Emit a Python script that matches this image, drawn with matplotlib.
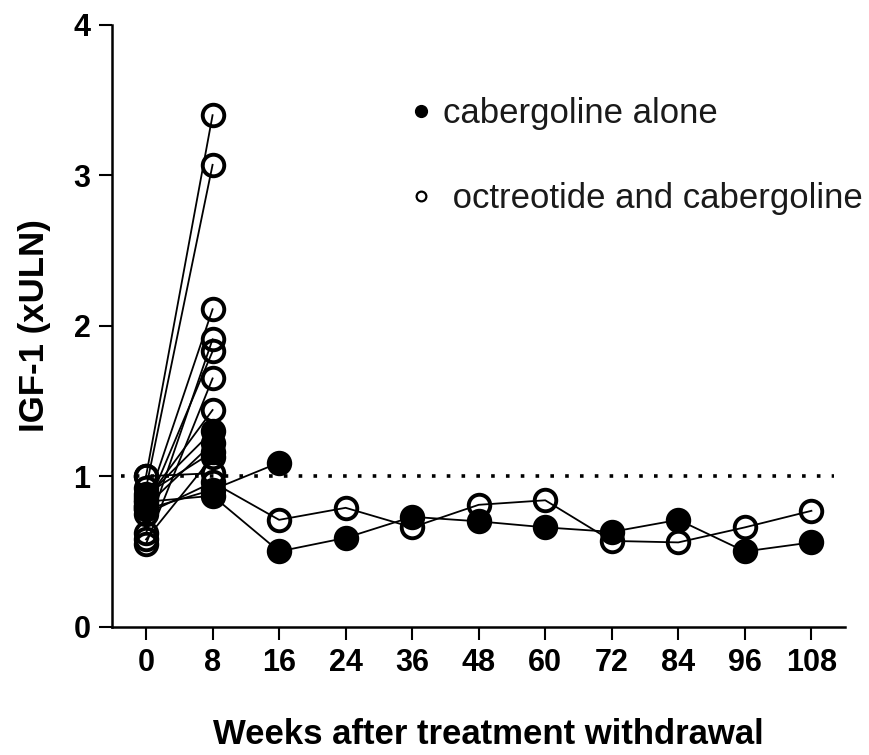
import matplotlib
matplotlib.use("Agg")
import matplotlib.pyplot as plt
from matplotlib.lines import Line2D

plt.rcParams['font.family'] = ['Liberation Sans', 'DejaVu Sans']

# x axis is categorical: weeks after withdrawal
weeks = ['0', '8', '16', '24', '36', '48', '60', '72', '84', '96', '108']

# cabergoline alone (filled circles), one list per patient
cab_long = [0.83, 0.87, 0.50, 0.59, 0.73, 0.70, 0.66, 0.63, 0.71, 0.50, 0.56]
cab_to16 = [0.78, 0.91, 1.09]
cab_p1 = [0.86, 1.30]
cab_p2 = [0.80, 1.22]
cab_p3 = [0.88, 1.16]

# octreotide and cabergoline (open circles)
oct_long = [0.75, 0.96, 0.71, 0.79, 0.66, 0.81, 0.84, 0.57, 0.56, 0.66, 0.77]
oct_p1 = [1.00, 3.40]
oct_p2 = [0.92, 3.07]
oct_p3 = [0.80, 2.11]
oct_p4 = [0.62, 1.91]
oct_p5 = [0.78, 1.83]
oct_p6 = [0.55, 1.65]
oct_p7 = [0.84, 1.44]
oct_p8 = [0.58, 1.13]
oct_p9 = [1.00, 1.02]

cab_patients = [cab_p1, cab_p2, cab_p3, cab_to16, cab_long]
oct_patients = [oct_p1, oct_p2, oct_p3, oct_p4, oct_p5, oct_p6, oct_p7, oct_p8, oct_p9, oct_long]

fig = plt.figure(figsize=(8.69, 7.55), dpi=100)
ax = fig.add_axes([0.129, 0.170, 0.843, 0.797])

# open markers first, filled on top
for p in oct_patients:
    ax.plot(range(len(p)), p, color='black', lw=1.3, marker='o', ms=15.5,
            mfc='none', mec='black', mew=2.8, clip_on=False, zorder=3)
for p in cab_patients:
    ax.plot(range(len(p)), p, color='black', lw=1.3, marker='o', ms=15.5,
            mfc='black', mec='black', mew=2.8, clip_on=False, zorder=4)

# upper limit of normal
ax.axhline(1, xmin=0.012, xmax=0.985, color='black', lw=2.6,
           linestyle=(0, (1, 3.1)), zorder=2)

ax.set_xlim(-0.51, 10.5)
ax.set_ylim(0, 4)
ax.set_xticks(range(len(weeks)))
ax.set_xticklabels(weeks)
ax.set_yticks([0, 1, 2, 3, 4])

ax.spines['top'].set_visible(False)
ax.spines['right'].set_visible(False)
ax.spines['left'].set_linewidth(1.8)
ax.spines['bottom'].set_linewidth(1.8)
ax.tick_params(axis='both', length=9.5, width=1.5, labelsize=22, pad=6)
for lab in ax.get_xticklabels() + ax.get_yticklabels():
    lab.set_fontweight('bold')

ax.set_xlabel('Weeks after treatment withdrawal', fontsize=25, fontweight='bold')
ax.xaxis.set_label_coords(0.513, -0.152)
ax.set_ylabel('IGF-1 (xULN)', fontsize=25, fontweight='bold', labelpad=16)

handles = [
    Line2D([], [], ls='none', marker='o', ms=8.5, mfc='black', mec='black'),
    Line2D([], [], ls='none', marker='o', ms=7, mfc='none', mec='black', mew=1.6),
]
ax.legend(handles, ['cabergoline alone', ' octreotide and cabergoline'],
          loc='upper left', bbox_to_anchor=(0.407, 0.88), frameon=False,
          fontsize=25, handlelength=0.6, handletextpad=0.33, labelspacing=1.5,
          borderpad=0, borderaxespad=0, labelcolor='#1a1a1a')

fig.savefig('out.png', dpi=100)
